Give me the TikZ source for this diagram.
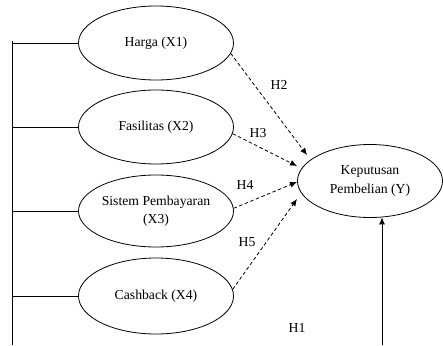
\documentclass[tikz,border=0pt]{standalone}
\usepackage{fontspec}
\setmainfont{Liberation Serif}
\usetikzlibrary{shapes.geometric,arrows.meta}
\newlength{\du}
\setlength{\du}{1pt}

\begin{document}
\begin{tikzpicture}[
  varel/.style={ellipse,draw,line width=0.8\du,minimum width=155\du,minimum height=74\du,
    inner sep=0pt,align=center,font=\fontsize{13.7}{18.5}\selectfont},
  hyp/.style={-{Latex[length=7pt,width=6pt]},dash pattern=on 3.5pt off 2.5pt,line width=0.8pt},
  hlabel/.style={font=\fontsize{13.7}{16}\selectfont}]
\pgftransformxscale{1.000000}
\pgftransformyscale{-1.000000}
\useasboundingbox (0\du,0\du) rectangle (443\du,345\du);
% variables
\node[varel] (harga) at (156\du,43\du){Harga (X1)};
\node[varel] (fasilitas) at (156\du,127\du){Fasilitas (X2)};
\node[varel,minimum height=72\du] (sistem) at (156\du,211\du){Sistem Pembayaran\\(X3)};
\node[varel,minimum height=76\du] (cashback) at (156\du,296\du){Cashback (X4)};
\node[varel,minimum width=145\du,minimum height=73\du] (keputusan) at (370\du,181\du){Keputusan\\Pembelian (Y)};
% left rail, runs off the bottom
\coordinate (railtop) at (12\du,41\du);
\coordinate (railbot) at (12\du,345\du);
\draw[line width=0.8\du] (railtop) -- (railbot);
\draw[line width=0.8\du] (harga.west) -- (harga.west -| railtop);
\draw[line width=0.8\du] (fasilitas.west) -- (fasilitas.west -| railtop);
\draw[line width=0.8\du] (sistem.west) -- (sistem.west -| railtop);
\draw[line width=0.8\du] (cashback.west) -- (cashback.west -| railtop);
% arrow tips near Y
\coordinate (tip2) at (307\du,155\du);
\coordinate (tip3) at (297\du,166\du);
\coordinate (tip4) at (297\du,182\du);
\coordinate (tip5) at (297\du,199\du);
\draw[hyp] (harga.-8) -- (tip2);
\draw[hyp] (fasilitas.-5) -- (tip3);
\draw[hyp] (sistem.2) -- (tip4);
\draw[hyp] (cashback.5) -- (tip5);
% H1 from below
\coordinate (h1foot) at (382\du,345\du);
\draw[-{Latex[length=7pt,width=6pt]},line width=0.8\du] (h1foot) -- (h1foot |- keputusan.-72);
% labels
\node[hlabel] (lh2) at (279\du,85\du){H2};
\node[hlabel] (lh3) at (258\du,133\du){H3};
\node[hlabel] (lh4) at (245\du,185\du){H4};
\node[hlabel] (lh5) at (247\du,242\du){H5};
\node[hlabel] (lh1) at (297\du,328\du){H1};
\end{tikzpicture}
\end{document}
